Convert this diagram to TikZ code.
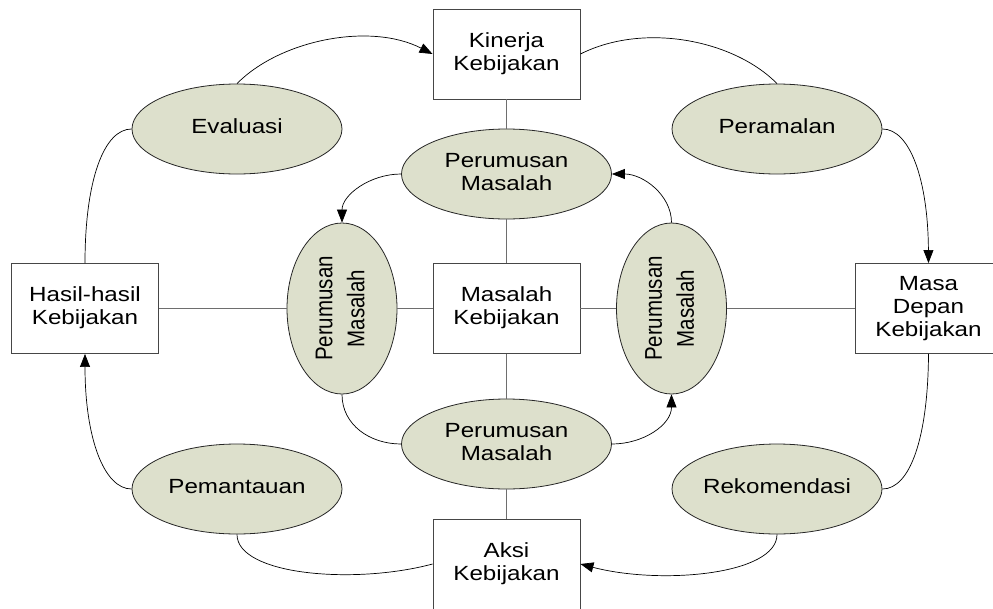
\documentclass[tikz,border=0pt]{standalone}
\usepackage{fontspec}
\setmainfont{Liberation Sans}
\usetikzlibrary{shapes.geometric,arrows.meta}
\definecolor{ellfill}{RGB}{221,224,204}
\definecolor{boxgray}{RGB}{70,70,70}
\definecolor{linegray}{RGB}{110,110,110}
\newcommand{\htxt}[1]{\scalebox{1.18}[1]{\fontsize{20.5}{23}\selectfont\begin{tabular}{@{}c@{}}#1\end{tabular}}}
\newcommand{\vtxt}[1]{\scalebox{1.18}[1]{\rotatebox{90}{\fontsize{20.5}{27}\selectfont\begin{tabular}{@{}c@{}}#1\end{tabular}}}}
\tikzset{
  box/.style={draw=boxgray, fill=white, minimum width=147pt, minimum height=90pt, inner sep=0pt, line width=0.9pt},
  ell/.style={ellipse, draw=black!85, fill=ellfill, minimum width=210pt, minimum height=90pt, inner sep=0pt, line width=0.8pt},
  vell/.style={ell, minimum width=110pt, minimum height=171pt},
  link/.style={draw=linegray, line width=1pt},
  cur/.style={draw=black, line width=0.7pt},
  arr/.style={cur, -{Triangle[length=13pt,width=10pt]}}
}
\begin{document}
\begin{tikzpicture}[x=1pt,y=-1pt]
\useasboundingbox (0,0) rectangle (993,608);
\clip (0,0) rectangle (993,608);
% boxes
\node[box] (kin) at (506.5,54) {\htxt{Kinerja\\Kebijakan}};
\node[box] (has) at (85,308.5) {\htxt{Hasil-hasil\\Kebijakan}};
\node[box] (mas) at (506.5,308.5) {\htxt{Masalah\\Kebijakan}};
\node[box] (dep) at (928.5,308.5) {\htxt{Masa\\Depan\\Kebijakan}};
\node[box] (aks) at (506.5,564) {\htxt{Aksi\\Kebijakan}};
% outer ellipses
\node[ell] (eva) at (237,129) {\htxt{Evaluasi}};
\node[ell] (per) at (777,129) {\htxt{Peramalan}};
\node[ell] (pem) at (237,489) {\htxt{Pemantauan}};
\node[ell] (rek) at (777,489) {\htxt{Rekomendasi}};
% inner ellipses
\node[ell] (pt) at (506.5,174) {\htxt{Perumusan\\Masalah}};
\node[ell] (pb) at (506.5,444) {\htxt{Perumusan\\Masalah}};
\node[vell] (pl) at (342,308.5) {\vtxt{Perumusan\\Masalah}};
\node[vell] (pr) at (671.5,308.5) {\vtxt{Perumusan\\Masalah}};
% straight links
\draw[link] (has.east) -- (pl.west);
\draw[link] (pl.east) -- (mas.west);
\draw[link] (mas.east) -- (pr.west);
\draw[link] (pr.east) -- (dep.west);
\draw[link] (kin.south) -- (pt.north);
\draw[link] (pt.south) -- (mas.north);
\draw[link] (mas.south) -- (pb.north);
\draw[link] (pb.south) -- (aks.north);
% outer cycle
\draw[arr] (eva.north) .. controls (280,40) and (370,22) .. (kin.west);
\draw[cur] (kin.east) .. controls (644,22) and (734,40) .. (per.north);
\draw[arr] (per.east) .. controls (910,129) and (928,180) .. (dep.north);
\draw[cur] (dep.south) .. controls (928,438) and (910,489) .. (rek.east);
\draw[arr] (rek.south) .. controls (777,575) and (660,585) .. (aks.east);
\draw[cur] (pem.south) .. controls (237,575) and (354,585) .. (aks.west);
\draw[arr] (pem.west) .. controls (104,489) and (85,438) .. (has.south);
\draw[cur] (has.north) .. controls (85,180) and (104,129) .. (eva.west);
% inner cycle
\draw[arr] (pt.west) .. controls (370,174) and (342,195) .. (pl.north);
\draw[cur] (pl.south) .. controls (342,425) and (370,444) .. (pb.west);
\draw[arr] (pb.east) .. controls (643,444) and (671.5,425) .. (pr.south);
\draw[arr] (pr.north) .. controls (671.5,195) and (643,174) .. (pt.east);
\end{tikzpicture}
\end{document}
